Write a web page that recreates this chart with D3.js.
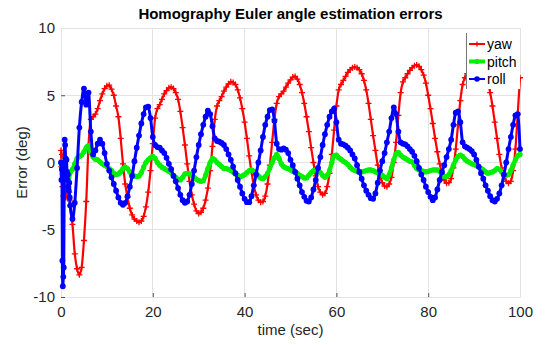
<!DOCTYPE html>
<html>
<head>
<meta charset="utf-8">
<script src="https://cdn.jsdelivr.net/npm/d3@7"></script>
<style>
  html, body { margin: 0; padding: 0; background: #fff; }
  svg { display: block; font-family: "Liberation Sans", Arial, Helvetica, sans-serif; }
</style>
</head>
<body>
<div id="chart"></div>
<script>
// ---------- data ----------
const titleText = "Homography Euler angle estimation errors";
const xLabel = "time (sec)";
const yLabel = "Error (deg)";
const xTicks = [0, 20, 40, 60, 80, 100];
const yTicks = [-10, -5, 0, 5, 10];
const seriesNames = ["yaw", "pitch", "roll"];

// sampling times: dense during the first two seconds, then every 0.5 s
const timeStart = [0,0.1,0.2,0.3,0.4,0.5,0.6,0.7,0.8,0.9,1.0,1.1,1.2,1.3,1.4,1.5,1.6,1.7,1.8,1.9,2.0];
const timeMain = d3.range(2.5, 100.001, 0.5);
const time = timeStart.concat(timeMain);

const yawStart = [0.9,-0.3,0.6,-1.8,-0.8,-2.5,-1.2,-2.2,-0.9,-1.8,-2.6,-1.5,-2.3,-1.1,-2.0,-2.7,-1.9,-2.5,-2.2,-2.8,-3.2];
const yawMain = [
  -4.6,-6.8,-7.9,-8.35,-7.8,-5.8,-2.9,1.3,3.2,3.4,
  3.6,4.0,4.6,5.1,5.5,5.7,5.75,5.45,5.0,4.2,
  3.4,1.8,-0.1,-1.6,-2.6,-3.4,-3.9,-4.2,-4.35,-4.45,
  -4.35,-4.0,-3.3,-2.2,-0.6,1.4,3.3,4.0,4.3,4.7,
  5.1,5.35,5.55,5.6,5.5,5.2,4.7,3.8,2.6,1.3,
  -0.1,-1.4,-2.4,-3.1,-3.6,-3.8,-3.7,-3.4,-2.8,-1.9,
  -0.6,1.2,3.2,4.2,4.6,4.9,5.3,5.6,5.85,6.0,
  5.95,5.8,5.4,4.8,4.0,3.0,1.8,0.5,-0.7,-1.7,
  -2.4,-2.8,-2.95,-2.9,-2.5,-1.6,-0.2,1.5,3.2,4.4,
  4.9,5.1,5.3,5.6,5.9,6.15,6.35,6.4,6.2,5.8,
  5.2,4.4,3.4,2.3,1.1,0.0,-1.0,-1.8,-2.2,-2.4,
  -2.3,-1.8,-0.8,0.6,2.4,4.2,5.4,5.8,6.1,6.4,
  6.7,6.9,7.05,7.1,7.05,6.9,6.6,6.1,5.4,4.4,
  3.2,2.0,0.9,-0.2,-1.0,-1.5,-1.75,-1.8,-1.6,-1.1,
  0.0,1.5,3.5,5.2,6.0,6.3,6.6,6.85,7.05,7.2,
  7.25,7.15,6.9,6.5,5.9,5.0,4.0,2.9,1.8,0.8,
  -0.1,-0.8,-1.3,-1.55,-1.5,-1.2,-0.4,1.0,2.8,4.6,
  5.8,6.3,6.6,6.85,7.05,7.2,7.3,7.3,7.2,6.9,
  6.5,6.0,5.2,4.2,3.0,1.8,0.6,-0.4,-1.0,-1.4,
  -1.55,-1.4,-0.6,1.0,3.6,6.3
];
const yaw = yawStart.concat(yawMain);

const pitchStart = [0.0,-0.2,0.1,-0.5,-0.3,-0.8,-0.6,-1.0,-0.9,-1.2,-1.1,-1.3,-1.2,-1.4,-1.3,-1.35,-1.2,-1.1,-0.9,-0.8,-0.7];
const pitchMain = [
  -0.5,-0.1,0.3,0.45,0.55,0.8,1.1,1.25,0.75,0.4,
  0.25,0.2,0.05,-0.1,-0.2,-0.3,-0.45,-0.6,-0.8,-0.9,
  -0.85,-0.7,-0.45,-0.35,-0.45,-0.7,-0.9,-1.0,-1.05,-1.0,
  -0.75,-0.35,0.0,0.2,0.35,0.45,0.3,0.0,-0.2,-0.35,
  -0.45,-0.55,-0.65,-0.75,-0.95,-1.1,-1.25,-1.3,-1.1,-0.85,
  -0.8,-0.85,-0.95,-1.1,-1.25,-1.35,-1.4,-1.35,-0.95,-0.45,
  0.0,0.3,0.2,0.0,-0.15,-0.3,-0.45,-0.45,-0.5,-0.6,
  -0.7,-0.85,-0.95,-1.05,-1.0,-0.9,-0.75,-0.6,-0.55,-0.65,
  -0.8,-1.0,-1.15,-1.2,-1.05,-0.8,-0.4,0.0,0.35,0.6,
  0.3,-0.1,-0.3,-0.4,-0.45,-0.55,-0.65,-0.7,-0.8,-0.95,
  -1.05,-1.15,-1.15,-0.95,-0.75,-0.6,-0.55,-0.6,-0.75,-0.95,
  -1.1,-0.95,-0.6,0.0,0.5,0.55,0.35,0.25,0.1,0.0,
  -0.15,-0.35,-0.5,-0.6,-0.65,-0.7,-0.7,-0.65,-0.6,-0.55,
  -0.55,-0.6,-0.7,-0.75,-0.85,-0.95,-1.1,-1.2,-0.9,-0.4,
  0.2,0.65,0.75,0.55,0.4,0.3,0.2,0.1,0.05,-0.2,
  -0.45,-0.55,-0.6,-0.65,-0.7,-0.65,-0.6,-0.55,-0.55,-0.55,
  -0.65,-0.85,-1.05,-1.05,-0.9,-0.6,-0.2,0.2,0.45,0.55,
  0.45,0.25,0.1,0.0,-0.1,-0.15,-0.25,-0.35,-0.45,-0.55,
  -0.7,-0.8,-0.75,-0.7,-0.6,-0.45,-0.5,-0.7,-0.85,-0.95,
  -0.9,-0.6,-0.2,0.2,0.5,0.6
];
const pitch = pitchStart.concat(pitchMain);

const rollStart = [0.0,-1.3,-0.5,-7.3,-9.2,-8.5,-7.8,-1.0,1.7,1.3,0.3,-0.9,0.2,-0.7,-1.3,-0.9,-1.8,-2.1,-1.5,-2.6,-3.2];
const rollMain = [
  -4.2,-3.0,-0.4,2.6,4.5,5.5,4.3,5.2,2.3,0.6,
  0.9,1.4,1.7,1.4,0.7,-0.1,-0.6,-1.1,-1.6,-2.1,
  -2.6,-3.0,-3.15,-3.0,-2.5,-1.8,-1.0,0.1,1.1,2.0,
  2.9,3.6,4.1,4.15,3.3,1.9,1.3,1.15,1.1,0.9,
  0.7,0.35,-0.1,-0.5,-1.0,-1.4,-1.9,-2.4,-2.8,-3.0,
  -2.9,-2.4,-1.6,-0.6,0.4,1.3,2.1,2.8,3.4,3.85,
  3.6,2.7,1.8,1.6,1.55,1.45,1.3,1.0,0.6,0.2,
  -0.3,-0.8,-1.3,-1.8,-2.3,-2.7,-2.95,-2.95,-2.5,-1.7,
  -0.9,0.0,0.9,1.9,2.8,3.4,3.9,3.95,3.1,1.4,
  1.0,0.95,1.05,0.95,0.7,0.2,-0.2,-0.7,-1.2,-1.7,
  -2.2,-2.55,-2.85,-2.9,-2.6,-2.0,-1.3,-0.4,0.4,1.3,
  2.1,2.8,3.4,3.8,4.0,3.0,1.7,1.4,1.35,1.25,
  1.1,0.9,0.6,0.3,-0.2,-0.7,-1.2,-1.7,-2.1,-2.4,
  -2.65,-2.7,-2.3,-1.5,-0.6,0.1,0.7,1.5,2.3,3.3,
  4.1,3.6,2.3,1.5,1.4,1.35,1.2,1.0,0.8,0.5,
  0.1,-0.4,-0.9,-1.3,-1.8,-2.2,-2.55,-2.8,-2.6,-2.0,
  -1.3,-0.7,-0.2,0.4,1.0,1.7,2.8,3.7,3.8,3.0,
  1.5,1.2,1.1,1.0,0.85,0.6,0.2,-0.3,-0.8,-1.2,
  -1.7,-2.1,-2.5,-2.8,-2.9,-2.7,-2.3,-1.7,-0.9,0.0,
  1.0,1.9,2.8,3.5,3.6,1.0
];
const roll = rollStart.concat(rollMain);

// ---------- layout ----------
const W = 552, H = 345;
const plot = { left: 61, right: 520, top: 28, bottom: 297 };

const svg = d3.select("#chart").append("svg").attr("width", W).attr("height", H);

const x = d3.scaleLinear().domain([0, 100]).range([plot.left, plot.right]);
const y = d3.scaleLinear().domain([-10, 10]).range([plot.bottom, plot.top]);

svg.append("rect").attr("width", W).attr("height", H).attr("fill", "#fff");

// grid
const grid = svg.append("g");
grid.selectAll(".gx").data(xTicks).join("line")
  .attr("x1", d => x(d)).attr("x2", d => x(d))
  .attr("y1", plot.top).attr("y2", plot.bottom)
  .attr("stroke", "#e3e3e3").attr("stroke-width", 1).attr("shape-rendering", "crispEdges");
grid.selectAll(".gy").data(yTicks).join("line")
  .attr("x1", plot.left).attr("x2", plot.right)
  .attr("y1", d => y(d)).attr("y2", d => y(d))
  .attr("stroke", "#e3e3e3").attr("stroke-width", 1).attr("shape-rendering", "crispEdges");

// axes (ticks inward, MATLAB style)
const xAxis = d3.axisBottom(x).tickValues(xTicks).tickSize(-4).tickPadding(9).tickFormat(d3.format("d"));
const yAxis = d3.axisLeft(y).tickValues(yTicks).tickSize(-4).tickPadding(6).tickFormat(d3.format("d"));

const gx = svg.append("g").attr("transform", `translate(0,${plot.bottom})`).call(xAxis);
const gy = svg.append("g").attr("transform", `translate(${plot.left},0)`).call(yAxis);
[gx, gy].forEach(g => {
  g.select(".domain").attr("stroke", "#e3e3e3");
  g.selectAll(".tick line").attr("stroke", "#555");
  g.selectAll(".tick text").attr("fill", "#262626")
    .style("font-size", "15px").style("font-family", '"Liberation Sans", Arial, sans-serif');
});
gy.selectAll(".tick text").text(d => d < 0 ? "-" + Math.abs(d) : d);
svg.append("line").attr("x1", plot.left).attr("x2", plot.right).attr("y1", plot.top).attr("y2", plot.top)
  .attr("stroke", "#e3e3e3").attr("shape-rendering", "crispEdges");
svg.append("line").attr("x1", plot.right).attr("x2", plot.right).attr("y1", plot.top).attr("y2", plot.bottom)
  .attr("stroke", "#e3e3e3").attr("shape-rendering", "crispEdges");

svg.append("clipPath").attr("id", "clip").append("rect")
  .attr("x", plot.left - 4).attr("y", plot.top).attr("width", plot.right - plot.left + 8).attr("height", plot.bottom - plot.top);

const colors = { yaw: "#ff0000", pitch: "#00f000", roll: "#0000ff" };
const data = {
  yaw: time.map((t, i) => [t, yaw[i]]),
  pitch: time.map((t, i) => [t, pitch[i]]),
  roll: time.map((t, i) => [t, roll[i]])
};

const line = d3.line().x(d => x(d[0])).y(d => y(d[1])).curve(d3.curveMonotoneX);
const plotG = svg.append("g").attr("clip-path", "url(#clip)");

function plus(g, cx, cy, s, color) {
  g.append("path").attr("d", `M${cx - s},${cy}H${cx + s}M${cx},${cy - s}V${cy + s}`)
    .attr("stroke", color).attr("stroke-width", 1.3).attr("fill", "none");
}

// yaw
plotG.append("path").datum(data.yaw).attr("d", line)
  .attr("fill", "none").attr("stroke", colors.yaw).attr("stroke-width", 2.2);
const yawG = plotG.append("g");
data.yaw.forEach(d => plus(yawG, x(d[0]), y(d[1]), 3, colors.yaw));

// pitch
plotG.append("path").datum(data.pitch).attr("d", line)
  .attr("fill", "none").attr("stroke", colors.pitch).attr("stroke-width", 4.5)
  .attr("stroke-linejoin", "round").attr("stroke-linecap", "round");
plotG.append("g").selectAll("circle").data(data.pitch).join("circle")
  .attr("cx", d => x(d[0])).attr("cy", d => y(d[1])).attr("r", 2.6).attr("fill", colors.pitch);

// roll
plotG.append("path").datum(data.roll).attr("d", line)
  .attr("fill", "none").attr("stroke", colors.roll).attr("stroke-width", 3)
  .attr("stroke-linejoin", "round");
plotG.append("g").selectAll("circle").data(data.roll).join("circle")
  .attr("cx", d => x(d[0])).attr("cy", d => y(d[1])).attr("r", 2.9).attr("fill", colors.roll);

// title and labels
svg.append("text").attr("x", (plot.left + plot.right) / 2).attr("y", 19)
  .attr("text-anchor", "middle").attr("font-weight", "bold").attr("font-size", 15).attr("fill", "#000")
  .text(titleText);
svg.append("text").attr("x", (plot.left + plot.right) / 2).attr("y", 335)
  .attr("text-anchor", "middle").attr("font-size", 15).attr("fill", "#262626").text(xLabel);
svg.append("text").attr("transform", `translate(27,${(plot.top + plot.bottom) / 2}) rotate(-90)`)
  .attr("text-anchor", "middle").attr("font-size", 15).attr("fill", "#262626").text(yLabel);

// legend
const lg = svg.append("g");
lg.append("rect").attr("x", 466).attr("y", 33).attr("width", 54).attr("height", 56).attr("fill", "#fff");
lg.append("line").attr("x1", 466.5).attr("x2", 466.5).attr("y1", 33).attr("y2", 89)
  .attr("stroke", "#777").attr("stroke-width", 1);
const legY = [44, 61.5, 79];
seriesNames.forEach((name, i) => {
  const yy = legY[i];
  lg.append("line").attr("x1", 469).attr("x2", 485).attr("y1", yy).attr("y2", yy)
    .attr("stroke", colors[name]).attr("stroke-width", name === "pitch" ? 4 : 2);
  if (name === "yaw") plus(lg, 477, yy, 2.6, colors.yaw);
  else lg.append("circle").attr("cx", 477).attr("cy", yy).attr("r", name === "pitch" ? 2.6 : 2.8).attr("fill", colors[name]);
  lg.append("text").attr("x", 487).attr("y", yy + 5).attr("font-size", 14).attr("fill", "#000").text(name);
});
</script>
</body>
</html>
